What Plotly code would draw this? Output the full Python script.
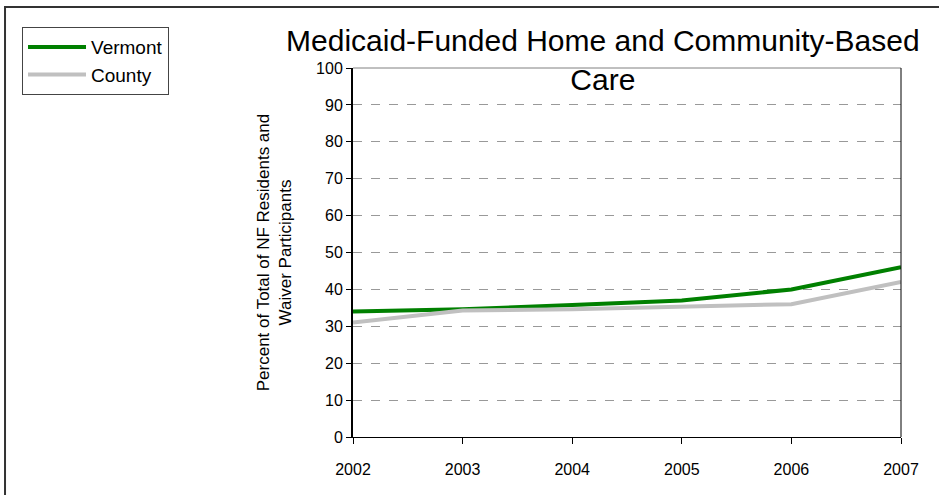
import plotly.graph_objects as go

years = [2002, 2003, 2004, 2005, 2006, 2007]
vermont = [34, 34.6, 35.8, 37, 40, 46]
county = [31, 34.3, 34.6, 35.2, 36, 42]
y_ticks = list(range(0, 101, 10))

fig = go.Figure()
fig.add_trace(go.Scatter(x=years, y=vermont, name="Vermont", mode="lines",
                         line=dict(color="#008000", width=4)))
fig.add_trace(go.Scatter(x=years, y=county, name="County", mode="lines",
                         line=dict(color="#C0C0C0", width=4)))

# outer chart border (runs off the right and bottom edge)
fig.add_shape(type="rect", xref="paper", yref="paper",
              x0=-0.635, x1=1.1, y0=-0.2, y1=1.165,
              line=dict(color="#333333", width=2))
# plot area frame: top and right
fig.add_shape(type="line", xref="paper", yref="paper", x0=0, x1=1, y0=1, y1=1,
              line=dict(color="#808080", width=1))
fig.add_shape(type="line", xref="paper", yref="paper", x0=1, x1=1, y0=0, y1=1,
              line=dict(color="black", width=1))

fig.update_layout(
    width=939, height=495,
    margin=dict(l=353, r=38, t=68, b=58),
    paper_bgcolor="white", plot_bgcolor="white",
    font=dict(family="Liberation Sans, Arial", size=16, color="black"),
    title=dict(text="Medicaid-Funded Home and Community-Based<br>Care",
               font=dict(size=30), x=0.642, xanchor="center",
               y=0.897, yanchor="top", xref="container", yref="container"),
    legend=dict(x=-0.604, y=1.111, xanchor="left", yanchor="top",
                bordercolor="#444444", borderwidth=1, bgcolor="white",
                font=dict(size=19), itemwidth=58),
)
fig.update_xaxes(range=[2002, 2007], tickvals=years, ticks="outside", ticklen=6,
                 tickcolor="black", showline=True, linecolor="black", linewidth=1,
                 showgrid=False, zeroline=False, ticklabelstandoff=12)
fig.update_yaxes(range=[0, 100], tickvals=y_ticks, ticks="outside", ticklen=5,
                 tickcolor="black", showline=True, linecolor="black", linewidth=2,
                 showgrid=True, gridcolor="#999999", griddash="dash",
                 gridwidth=1, zeroline=False,
                 title=dict(text="Percent of Total of NF Residents and<br>Waiver Participants",
                            standoff=20, font=dict(size=17)))
fig.write_html("out.html", config={"displayModeBar": False},
               post_script="document.body.style.margin='0';")
